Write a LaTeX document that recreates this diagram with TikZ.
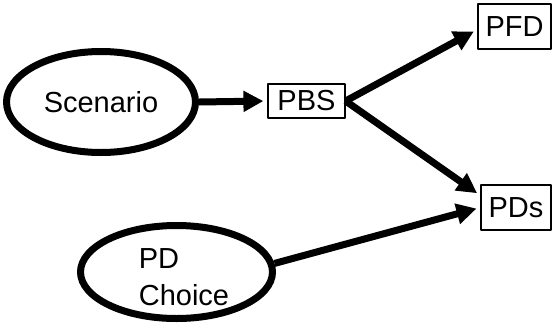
\documentclass[tikz,border=0pt]{standalone}
\usepackage{fontspec}
\setmainfont{Liberation Sans}
\usetikzlibrary{shapes.geometric,arrows.meta}

\begin{document}
\begin{tikzpicture}[x=1pt, y=-1pt, line join=round,
    font=\fontsize{29}{37}\selectfont,
    oval/.style={ellipse, draw, line width=7pt, inner sep=0pt},
    box/.style={rectangle, draw, line width=1.2pt, inner sep=0pt, minimum height=45pt},
    flow/.style={line width=7pt, -{Triangle[length=20pt,width=20pt]}, shorten >=4pt}]
  \useasboundingbox (0,0) rectangle (552,333);

  % sources
  \node[oval, minimum width=189pt, minimum height=101pt] (scen) at (101,102) {Scenario};
  \node[oval, minimum width=192pt, minimum height=93pt] (pdc) at (176.5,272) {};
  \node[align=left, inner sep=0pt] (pdctext) at (184,277) {PD\\Choice};

  % products
  \node[box, minimum width=77pt, minimum height=34pt] (pbs) at (306.5,101) {PBS};
  \node[box, minimum width=73pt] (pfd) at (514.5,26.5) {PFD};
  \node[box, minimum width=70pt] (pds) at (516,207.5) {PDs};

  \draw[flow] (scen.east) -- (pbs.west);
  \draw[flow] (pbs.east) -- ([yshift=-3pt]pfd.west);
  \draw[flow] (pbs.east) -- ([yshift=12pt]pds.west);
  \draw[flow] (pdc.5) -- (pds.west);
\end{tikzpicture}
\end{document}
